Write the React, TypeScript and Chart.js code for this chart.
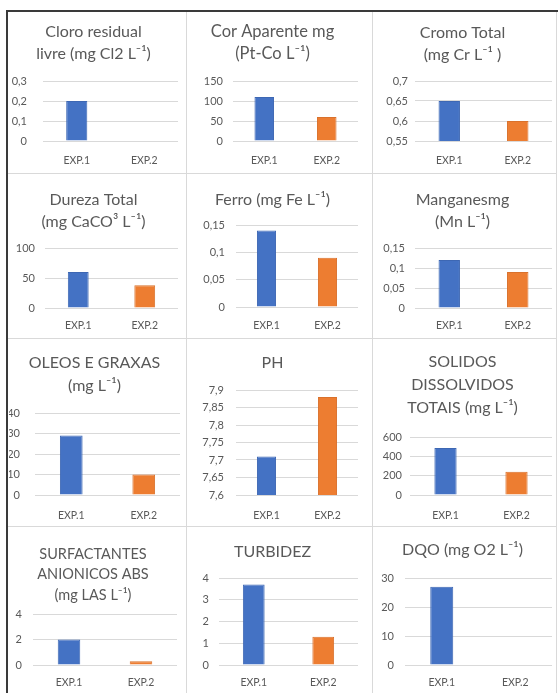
import { useEffect, useRef } from "react";
import { Chart, registerables } from "chart.js";
Chart.register(...registerables);

// ---------- data ----------
const categories = ["EXP.1", "EXP.2"];

const cloroValues = [0.2, 0];
const corValues = [110, 60];
const cromoValues = [0.65, 0.6];
const durezaValues = [60, 38];
const ferroValues = [0.14, 0.09];
const manganesValues = [0.12, 0.09];
const oleosValues = [29, 10];
const phValues = [7.71, 7.88];
const solidosValues = [485, 240];
const surfactantesValues = [2, 0.3];
const turbidezValues = [3.7, 1.3];
const dqoValues = [27, 0];

// axis [min, max, step]
const cloroAxis = [0, 0.3, 0.1];
const corAxis = [0, 150, 50];
const cromoAxis = [0.55, 0.7, 0.05];
const durezaAxis = [0, 100, 50];
const ferroAxis = [0, 0.15, 0.05];
const manganesAxis = [0, 0.15, 0.05];
const oleosAxis = [0, 40, 10];
const phAxis = [7.6, 7.9, 0.05];
const solidosAxis = [0, 600, 200];
const surfactantesAxis = [0, 4, 2];
const turbidezAxis = [0, 4, 1];
const dqoAxis = [0, 30, 10];

const cloroTitle = ["Cloro residual", "livre (mg Cl2 L\u207B\u00B9)"];
const corTitle = ["Cor Aparente mg", "(Pt-Co L\u207B\u00B9)"];
const cromoTitle = ["Cromo Total", "(mg Cr L\u207B\u00B9 )"];
const durezaTitle = ["Dureza Total", "(mg CaCO\u00B3 L\u207B\u00B9)"];
const ferroTitle = ["Ferro (mg Fe L\u207B\u00B9)"];
const manganesTitle = ["Manganesmg", "(Mn L\u207B\u00B9)"];
const oleosTitle = ["OLEOS E GRAXAS", "(mg L\u207B\u00B9)"];
const phTitle = ["PH"];
const solidosTitle = ["SOLIDOS", "DISSOLVIDOS", "TOTAIS (mg L\u207B\u00B9)"];
const surfactantesTitle = ["SURFACTANTES", "ANIONICOS ABS", "(mg LAS L\u207B\u00B9)"];
const turbidezTitle = ["TURBIDEZ"];
const dqoTitle = ["DQO (mg O2 L\u207B\u00B9)"];

// ---------- styles / layout ----------
const FONT = "Lato";
const TEXT = "#595959";
const BLUE = "#4472C4";
const ORANGE = "#ED7D31";
const GRID = "#d9d9d9";

const colX = [9, 187, 373];
const colW = [177, 185, 183];
const rowY = [12, 174, 339, 527];
const rowH = [161, 164, 187, 166];

// [labelRight, plotLeft, plotRight, titleY, lineH, titleSize, plotTop, plotBottom, xLabelY]
const layouts = [
  [18, 34, 169, 20, 22, 16, 69, 129, 148],
  [36, 46, 171, 20, 22, 16.5, 69, 129, 148],
  [35, 42, 179, 21, 22, 16, 69, 129, 148],
  [26, 36, 169, 26, 22, 16, 74, 134, 151],
  [38, 49, 171, 26, 22, 16, 51, 133, 151],
  [32, 42, 179, 26, 22, 16, 74, 134, 151],
  [11, 26, 171, 24, 23, 16, 74, 156, 176],
  [37, 49, 171, 24, 23, 16, 51, 156, 176],
  [29, 37, 179, 23, 23, 16, 98, 156, 176],
  [13, 24, 168, 27, 20.5, 14.5, 87, 138, 155],
  [22, 32, 171, 25, 22, 16, 51, 138, 155],
  [21, 32, 179, 23, 22, 16, 51, 138, 155],
];

const panels = [
  { title: cloroTitle, values: cloroValues, axis: cloroAxis },
  { title: corTitle, values: corValues, axis: corAxis },
  { title: cromoTitle, values: cromoValues, axis: cromoAxis },
  { title: durezaTitle, values: durezaValues, axis: durezaAxis },
  { title: ferroTitle, values: ferroValues, axis: ferroAxis },
  { title: manganesTitle, values: manganesValues, axis: manganesAxis },
  { title: oleosTitle, values: oleosValues, axis: oleosAxis },
  { title: phTitle, values: phValues, axis: phAxis },
  { title: solidosTitle, values: solidosValues, axis: solidosAxis },
  { title: surfactantesTitle, values: surfactantesValues, axis: surfactantesAxis },
  { title: turbidezTitle, values: turbidezValues, axis: turbidezAxis },
  { title: dqoTitle, values: dqoValues, axis: dqoAxis },
];

const fmt = (v: any) => String(+Number(v).toFixed(3)).replace(".", ",");

function Panel({ index }: { index: number }) {
  const ref = useRef<HTMLCanvasElement>(null);
  const p = panels[index];
  const [labelRight, plotLeft, plotRight, titleY, lh, titleSize, plotTop, plotBottom, xLabelY] = layouts[index];
  const col = index % 3;
  const row = Math.floor(index / 3);
  const x = colX[col];
  const y = rowY[row];
  const w = colW[col];
  const h = rowH[row];

  useEffect(() => {
    const n = p.title.length;
    const padTop = titleY - lh / 2;
    const padBottom = plotTop - padTop - n * lh;
    const xPad = xLabelY - plotBottom - 6;
    const chart = new Chart(ref.current!, {
      type: "bar",
      data: {
        labels: categories,
        datasets: [
          {
            data: p.values,
            backgroundColor: [BLUE, ORANGE],
            borderColor: ["#3d67b3", "#d9712c"],
            borderWidth: 1,
            barPercentage: 0.313,
            categoryPercentage: 1,
          },
        ],
      },
      options: {
        responsive: false,
        animation: false,
        devicePixelRatio: 1,
        layout: {
          padding: { left: 0, top: 0, right: w - plotRight, bottom: h - plotBottom - xPad - 12 },
        },
        plugins: {
          legend: { display: false },
          tooltip: { enabled: false },
          title: {
            display: true,
            text: p.title,
            color: TEXT,
            font: { family: FONT, size: titleSize, weight: "normal", lineHeight: lh / titleSize },
            padding: { top: padTop, bottom: padBottom },
          },
        },
        scales: {
          x: {
            grid: { display: false, drawTicks: false },
            border: { display: false },
            ticks: { color: TEXT, font: { family: FONT, size: 10.5 }, padding: xPad },
            afterFit: (s: any) => {
              s.height = xPad + 12;
            },
          },
          y: {
            min: p.axis[0],
            max: p.axis[1],
            grid: { color: GRID, drawTicks: false },
            border: { display: false },
            ticks: {
              stepSize: p.axis[2],
              color: TEXT,
              font: { family: FONT, size: 11 },
              padding: plotLeft - labelRight,
              callback: fmt,
            },
            afterFit: (s: any) => {
              s.width = plotLeft;
            },
          },
        },
      },
    } as any);
    return () => chart.destroy();
  }, []);

  return (
    <canvas
      ref={ref}
      width={w}
      height={h}
      style={{ position: "absolute", left: x, top: y, width: w, height: h }}
    />
  );
}

export default function App() {
  const line = (style: any) => <div style={{ position: "absolute", ...style }} />;
  return (
    <div
      style={{
        position: "absolute",
        left: 0,
        top: 0,
        width: 559,
        height: 693,
        background: "#ffffff",
        overflow: "hidden",
      }}
    >
      {panels.map((_, i) => (
        <Panel key={i} index={i} />
      ))}
      {line({ left: 186, top: 12, width: 1, height: 681, background: GRID })}
      {line({ left: 372, top: 12, width: 1, height: 681, background: GRID })}
      {line({ left: 556, top: 12, width: 1, height: 681, background: GRID })}
      {line({ left: 8, top: 173, width: 548, height: 1, background: GRID })}
      {line({ left: 8, top: 338, width: 548, height: 1, background: GRID })}
      {line({ left: 8, top: 526, width: 548, height: 1, background: GRID })}
      {line({ left: 6, top: 10, width: 2, height: 683, background: "#3a3a3a" })}
      {line({ left: 6, top: 10, width: 552, height: 2, background: "#3a3a3a" })}
    </div>
  );
}
